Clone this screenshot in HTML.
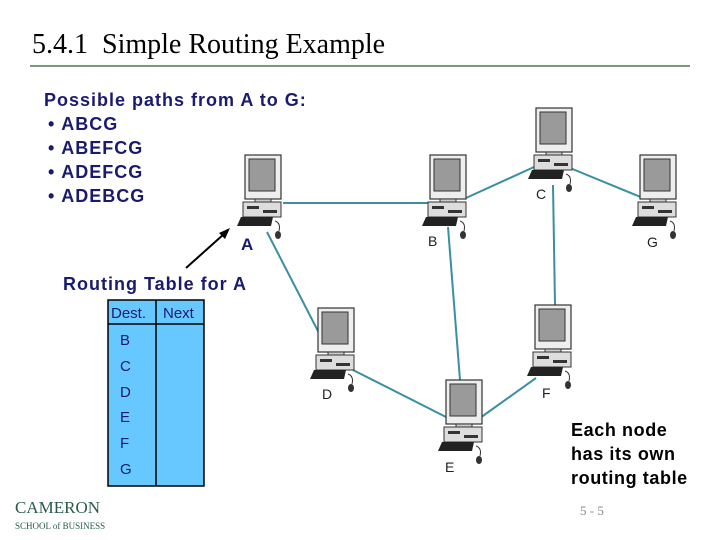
<!DOCTYPE html>
<html><head><meta charset="utf-8"><style>
body{margin:0;width:720px;height:540px;background:#fff;position:relative;overflow:hidden;font-family:"Liberation Sans",sans-serif}
.t{position:absolute;white-space:nowrap}
</style></head><body>
<div class="t" style="left:32px;top:29px;font-family:'Liberation Serif',serif;font-size:28px;color:#000">5.4.1&nbsp; Simple Routing Example</div>
<div style="position:absolute;left:30px;top:65px;width:660px;height:2px;background:#7a9a7a"></div>
<div class="t" style="left:44px;top:88px;font-size:18px;font-weight:bold;color:#1a1a6e;line-height:24px;letter-spacing:1px">Possible paths from A to G:</div>
<div class="t" style="left:48px;top:112px;font-size:18px;font-weight:bold;color:#1a1a6e;line-height:24px;letter-spacing:1px">•&nbsp;ABCG<br>•&nbsp;ABEFCG<br>•&nbsp;ADEFCG<br>•&nbsp;ADEBCG</div>
<div class="t" style="left:63px;top:274px;font-size:18px;font-weight:bold;color:#1a1a6e;letter-spacing:1px">Routing Table for A</div>
<div class="t" style="left:571px;top:418px;font-size:18px;font-weight:bold;color:#000;line-height:24px;letter-spacing:0.6px">Each node<br>has its own<br>routing table</div>
<div class="t" style="left:580px;top:503px;font-family:'Liberation Serif',serif;font-size:13px;color:#888">5 - 5</div>
<div class="t" style="left:15px;top:500px;font-family:'Liberation Serif',serif;font-size:17px;color:#2a5a4a;line-height:16px">CAMERON<br><span style="font-size:9px">SCHOOL of BUSINESS</span></div>
<svg style="position:absolute;left:0;top:0" width="720" height="540">
<defs>
<g id="pc">
<rect x="0" y="0" width="36" height="44" fill="#eee" stroke="#333" stroke-width="1.2"/>
<rect x="4" y="4" width="26" height="32" fill="#9a9a9a" stroke="#333"/>
<rect x="10" y="44" width="16" height="3" fill="#ccc" stroke="#333"/>
<rect x="-2" y="47" width="38" height="15" fill="#ddd" stroke="#333"/>
<rect x="2" y="51" width="12" height="3" fill="#333"/>
<rect x="18" y="55" width="14" height="3" fill="#333"/>
<polygon points="-4,62 28,62 26,71 -8,71" fill="#222"/>
<ellipse cx="33" cy="80" rx="3" ry="4" fill="#333"/>
<path d="M30,66 q6,2 4,10" stroke="#333" fill="none"/>
</g>
</defs>
<g stroke="#3a8fa0" stroke-width="2" fill="none">
<line x1="283" y1="203" x2="428" y2="203"/>
<line x1="466" y1="198" x2="534" y2="167"/>
<line x1="570" y1="168" x2="643" y2="198"/>
<line x1="267" y1="232" x2="320" y2="335"/>
<line x1="448" y1="227" x2="460" y2="380"/>
<line x1="553" y1="185" x2="555" y2="305"/>
<line x1="353" y1="370" x2="446" y2="417"/>
<line x1="480" y1="418" x2="536" y2="378"/>
</g>
<use href="#pc" x="245" y="155"/>
<use href="#pc" x="430" y="155"/>
<use href="#pc" x="536" y="108"/>
<use href="#pc" x="640" y="155"/>
<use href="#pc" x="318" y="308"/>
<use href="#pc" x="446" y="380"/>
<use href="#pc" x="535" y="305"/>
<g font-family="Liberation Sans,sans-serif" font-size="14" fill="#222">
<text x="428" y="246">B</text><text x="536" y="199">C</text><text x="647" y="247">G</text>
<text x="322" y="399">D</text><text x="542" y="398">F</text><text x="445" y="472">E</text>
</g>
<text x="241" y="250" font-family="Liberation Sans,sans-serif" font-size="17" font-weight="bold" fill="#1a1a6e">A</text>
<line x1="186" y1="268" x2="224" y2="234" stroke="#000" stroke-width="2"/>
<polygon points="230,228 219,233 225,239" fill="#000"/>
<rect x="108" y="300" width="96" height="186" fill="#66c8ff" stroke="#000" stroke-width="1.5"/>
<line x1="108" y1="324" x2="204" y2="324" stroke="#000" stroke-width="1.5"/>
<line x1="156" y1="300" x2="156" y2="486" stroke="#000" stroke-width="1.5"/>
<g font-family="Liberation Sans,sans-serif" font-size="15" fill="#1a1a6e">
<text x="111" y="318">Dest.</text><text x="163" y="318">Next</text>
<text x="120" y="345">B</text><text x="120" y="371">C</text><text x="120" y="397">D</text>
<text x="120" y="422">E</text><text x="120" y="448">F</text><text x="120" y="474">G</text>
</g>
</svg>
</body></html>
